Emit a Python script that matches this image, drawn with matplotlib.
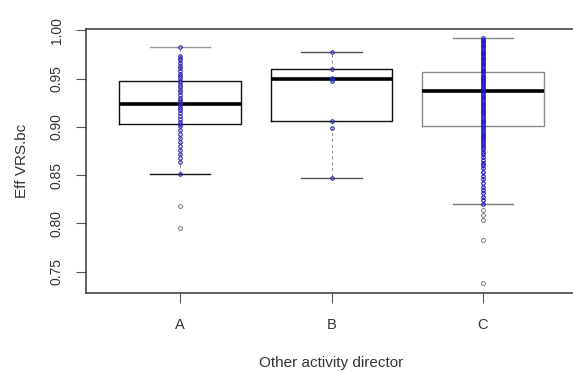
import matplotlib
matplotlib.use("Agg")
import matplotlib.pyplot as plt

plt.rcParams['font.family'] = ['Liberation Sans', 'DejaVu Sans']

categories = ["A", "B", "C"]
q1 = [0.9026, 0.9060, 0.9010]
med = [0.9233, 0.9495, 0.9374]
q3 = [0.9480, 0.9596, 0.9570]
whislo = [0.8510, 0.8466, 0.8200]
whishi = [0.9830, 0.9778, 0.9920]
fliers = [[0.818, 0.795], [], [0.814, 0.809, 0.804, 0.7825, 0.7378]]

points_a = [0.983, 0.973, 0.971, 0.969, 0.966, 0.963, 0.961, 0.958, 0.955, 0.953,
            0.951, 0.948, 0.946, 0.943, 0.941, 0.938, 0.936, 0.933, 0.930, 0.928,
            0.926, 0.924, 0.922, 0.920, 0.917, 0.914, 0.911, 0.908, 0.905, 0.903,
            0.901, 0.897, 0.893, 0.888, 0.884, 0.880, 0.876, 0.872, 0.868, 0.864,
            0.851]
points_b = [0.978, 0.960, 0.951, 0.9495, 0.947, 0.906, 0.8985, 0.847]
points_c = [0.992, 0.990, 0.989, 0.987, 0.985, 0.984, 0.982, 0.980, 0.978, 0.977,
            0.975, 0.973, 0.971, 0.970, 0.968, 0.966, 0.965, 0.963, 0.961, 0.959,
            0.958, 0.956, 0.954, 0.952, 0.951, 0.949, 0.947, 0.945, 0.944, 0.942,
            0.940, 0.939, 0.937, 0.935, 0.933, 0.931, 0.930, 0.928, 0.926, 0.924,
            0.923, 0.921, 0.919, 0.917, 0.915, 0.914, 0.912, 0.910, 0.908, 0.906,
            0.905, 0.903, 0.901, 0.899, 0.897, 0.895, 0.893, 0.891, 0.889, 0.887,
            0.885, 0.883, 0.881, 0.879, 0.877, 0.874, 0.872, 0.869, 0.866, 0.863,
            0.860, 0.857, 0.853, 0.849, 0.846, 0.842, 0.838, 0.835, 0.831, 0.827,
            0.824, 0.820]
strip_points = [points_a, points_b, points_c]

yticks = [0.75, 0.80, 0.85, 0.90, 0.95, 1.00]
ytick_labels = ["0.75", "0.80", "0.85", "0.90", "0.95", "1.00"]
xlabel = "Other activity director"
ylabel = "Eff VRS.bc"

W, H = 573, 372
fig = plt.figure(figsize=(W / 100, H / 100), dpi=100)
left_px, right_px = 86.1, 576.9
top_px, bot_px = 28.5, 293.0
ax = fig.add_axes([left_px / W, 1 - bot_px / H, (right_px - left_px) / W, (bot_px - top_px) / H])

positions = list(range(1, len(categories) + 1))
stats = []
for i, c in enumerate(categories):
    stats.append(dict(label=c, q1=q1[i], med=med[i], q3=q3[i],
                      whislo=whislo[i], whishi=whishi[i], fliers=fliers[i]))

box_colors = ["#111111", "#111111", "#8a8a8a"]
res = ax.bxp(stats, positions=positions, widths=0.8, capwidths=0.4,
             showfliers=True, patch_artist=False,
             boxprops=dict(color="#111111", linewidth=1.0),
             medianprops=dict(color="#000000", linewidth=2.6),
             whiskerprops=dict(color="#888888", linewidth=0.7, linestyle=(0, (3, 3))),
             capprops=dict(color="#333333", linewidth=1.0),
             flierprops=dict(marker="o", markersize=2.8, markerfacecolor="none",
                             markeredgecolor="#666666", markeredgewidth=0.6, linestyle="none"))
for b, col in zip(res["boxes"], box_colors):
    b.set_color(col)
cap_colors = ["#111111", "#999999", "#555555", "#555555", "#777777", "#888888"]
for cp, col in zip(res["caps"], cap_colors):
    cp.set_color(col)

strip_colors = ["#2a2ab8", "#2a2ab8", "#1414c8"]
for pos, pts, col in zip(positions, strip_points, strip_colors):
    ax.plot([pos] * len(pts), pts, linestyle="none", marker="o", markersize=2.5,
            markerfacecolor="none", markeredgecolor=col, markeredgewidth=0.8,
            zorder=3)

ax.set_xlim(0.38, 3.62)
ax.set_ylim(0.7279, 1.0019)
ax.set_xticks(positions)
ax.set_xticklabels(categories, fontsize=10.5, color="#333333")
ax.set_yticks(yticks)
ax.set_yticklabels(ytick_labels, fontsize=10, color="#333333", rotation=90, va="center")
ax.tick_params(axis="both", length=7, width=0.8, color="#555555")
ax.tick_params(axis="x", pad=11)
ax.tick_params(axis="y", pad=9)
for s in ax.spines.values():
    s.set_color("#444444")
    s.set_linewidth(1.2)

ax.set_xlabel(xlabel, fontsize=11, color="#333333", labelpad=17)
ax.set_ylabel(ylabel, fontsize=11, color="#333333", labelpad=15)

fig.savefig("out.png", dpi=100)
